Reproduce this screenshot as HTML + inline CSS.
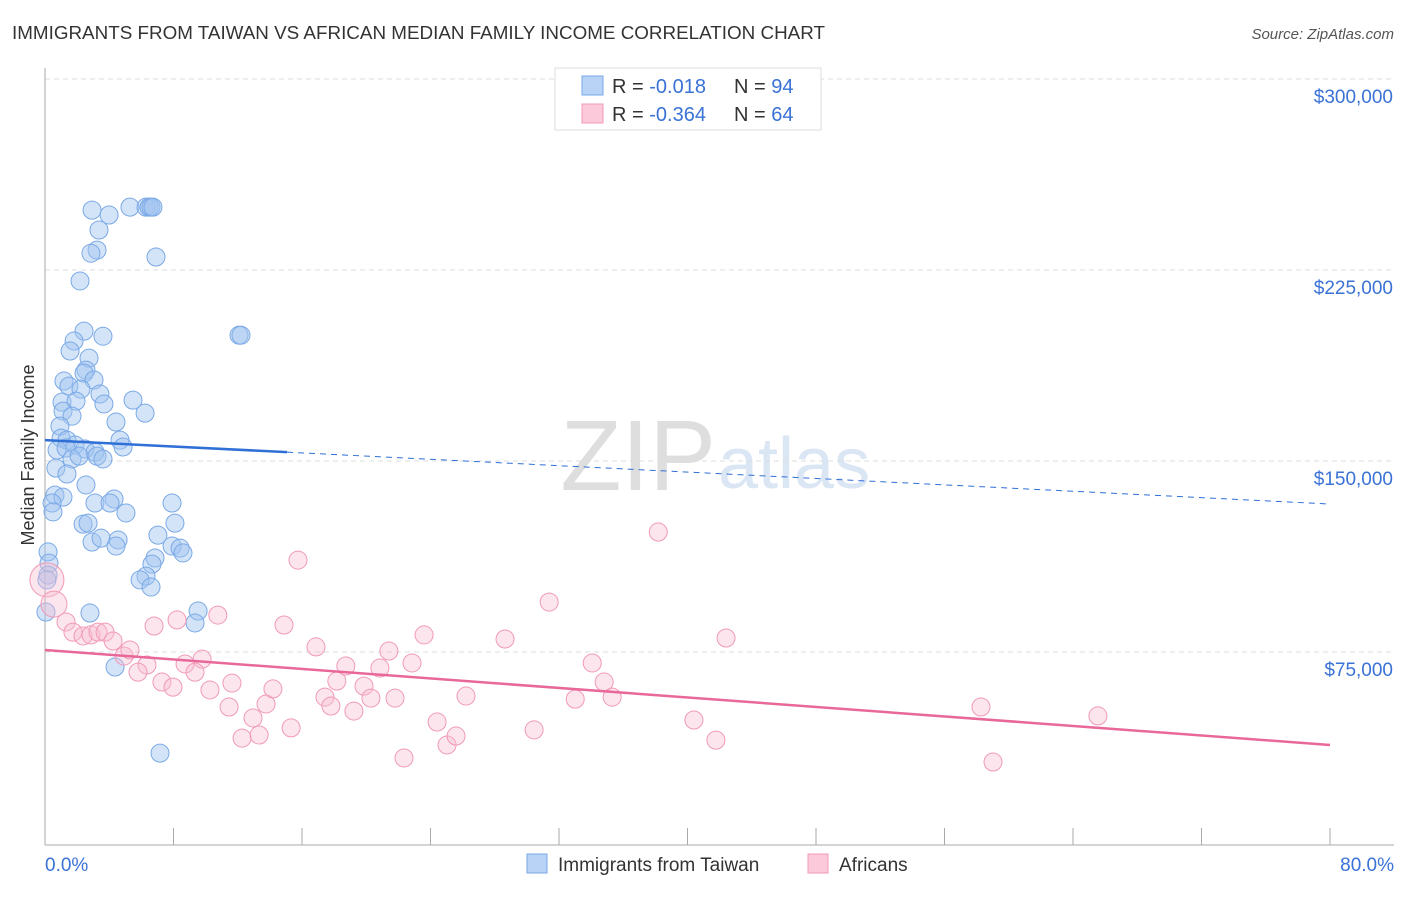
<!DOCTYPE html>
<html><head><meta charset="utf-8"><style>
body{margin:0;background:#fff;font-family:"Liberation Sans",sans-serif}
svg text{font-family:"Liberation Sans",sans-serif}
</style></head><body>
<svg id="chart" width="1406" height="892" viewBox="0 0 1406 892">
<text x="12" y="39" font-size="18" fill="#333" textLength="813" lengthAdjust="spacingAndGlyphs">IMMIGRANTS FROM TAIWAN VS AFRICAN MEDIAN FAMILY INCOME CORRELATION CHART</text>
<text x="1394" y="39" font-size="15" fill="#555" font-style="italic" text-anchor="end">Source: ZipAtlas.com</text>
<text x="716" y="490" font-size="100" fill="#dedede" text-anchor="end" font-family="Liberation Serif">ZIP</text>
<text x="718" y="488" font-size="72" fill="#dbe6f5">atlas</text>
<g id="grid"></g>
<g id="axes"></g>
<g id="pts"></g>
<g id="lines"></g>
<text transform="translate(34,455) rotate(-90)" font-size="18" fill="#333" text-anchor="middle">Median Family Income</text>
<g>
<rect x="555" y="68" width="266" height="62" fill="#fff" stroke="#ddd"/>
<rect x="582" y="76" width="21" height="19" fill="#b8d3f5" stroke="#7aaae8"/>
<rect x="582" y="104" width="21" height="19" fill="#fbc9d9" stroke="#f09ab6"/>
<text x="612" y="93" font-size="20" fill="#333">R = <tspan fill="#3a72d6">-0.018</tspan></text>
<text x="734" y="93" font-size="20" fill="#333">N = <tspan fill="#3a72d6">94</tspan></text>
<text x="612" y="121" font-size="20" fill="#333">R = <tspan fill="#3a72d6">-0.364</tspan></text>
<text x="734" y="121" font-size="20" fill="#333">N = <tspan fill="#3a72d6">64</tspan></text>
</g>
<g>
<rect x="527" y="854" width="20" height="19" fill="#b8d3f5" stroke="#7aaae8"/>
<text x="558" y="871" font-size="19" fill="#333">Immigrants from Taiwan</text>
<rect x="808" y="854" width="20" height="19" fill="#fbc9d9" stroke="#f09ab6"/>
<text x="839" y="871" font-size="19" fill="#333">Africans</text>
</g>
<text x="45" y="871" font-size="19" fill="#3a72d6">0.0%</text>
<text x="1394" y="871" font-size="19" fill="#3a72d6" text-anchor="end">80.0%</text>
</svg>
<script>
const yTicks=[75000,150000,225000,300000];
const yTickLabels=["$75,000","$150,000","$225,000","$300,000"];
const blueX=[2.93,3.99,5.29,6.29,6.48,6.6,6.72,3.36,3.24,2.86,6.91,2.18,12.08,12.2,2.43,3.61,1.81,1.56,2.74,2.55,2.43,1.18,3.05,1.49,2.24,3.42,1.06,1.93,3.67,5.48,1.12,6.23,1.68,4.42,0.93,1.0,4.67,1.37,4.86,1.87,0.75,2.49,1.31,3.11,3.24,3.61,1.68,2.12,0.68,1.37,2.55,0.62,1.12,0.44,0.5,3.11,4.3,4.05,5.04,7.91,2.37,2.68,8.09,7.03,2.93,3.49,4.55,4.42,7.91,8.41,8.59,0.19,6.85,6.66,0.25,0.19,0.12,6.29,5.92,6.6,0.06,2.8,9.53,9.34,4.36,7.16];
const blueY=[248.5,246.6,249.7,249.7,249.7,249.7,249.7,240.7,232.8,231.6,230.1,220.7,199.4,199.4,201,199,197.1,193.2,190.4,185.7,184.5,181.4,181.8,179.4,178.2,176.3,173.1,173.5,172.4,173.9,169.6,168.8,167.6,165.3,163.7,159,158.2,158.2,155.5,156.3,154.3,154.7,155.1,153.5,151.9,150.8,150.8,151.9,147.2,144.9,140.6,136.6,135.8,133.5,130,133.5,135.1,133.5,129.6,133.5,125.2,125.6,125.6,120.9,118.2,119.7,119,116.6,116.6,115.8,113.9,114.3,111.9,109.5,109.9,105.2,103.3,104.8,103.3,100.5,90.7,90.3,91.1,86.4,69.1,35.3];
const pinkX=[0.12,0.56,1.31,1.74,2.37,2.86,3.3,3.74,4.24,4.92,5.29,6.35,5.79,6.79,8.22,10.76,7.28,7.97,8.72,9.78,9.34,10.27,11.64,11.46,12.95,12.27,13.33,13.76,14.19,14.88,15.32,15.75,16.87,17.43,17.8,18.17,18.73,19.23,19.86,20.29,20.85,21.41,21.79,22.35,22.85,23.6,24.41,25.03,25.59,26.21,28.64,30.45,31.39,33.01,34.07,34.81,35.31,38.18,40.4,41.77,42.4,58.27,59.02,65.55];
const pinkY=[103.3,93.8,86.8,82.8,81.3,81.7,82.8,82.8,79.3,73.4,75.8,69.9,67.1,85.2,87.6,89.5,63.2,61.2,70.3,72.2,67.1,60.1,62.8,53.4,49.1,41.2,42.4,54.6,60.5,85.6,45.2,111.1,77,57.3,53.8,63.6,69.5,51.8,61.6,56.9,68.7,75.4,56.9,33.4,70.7,81.7,47.5,38.5,42,57.7,80.1,44.4,94.6,56.5,70.7,63.2,57.3,122.1,48.3,40.4,80.5,53.4,31.8,49.9];
const pinkR=[17,13];
const blueTrend=[158.2,133.1]; const blueSolidEnd=15.07;
const pinkTrend=[75.8,38.5];
const NS='http://www.w3.org/2000/svg';
const X=p=>45+p*1285/80;
const Y=k=>843-k*191/75;
function mk(tag,attrs,parent){const e=document.createElementNS(NS,tag);for(const a in attrs)e.setAttribute(a,attrs[a]);parent.appendChild(e);return e;}
const grid=document.getElementById('grid'),axes=document.getElementById('axes'),pts=document.getElementById('pts'),lines=document.getElementById('lines');
yTicks.forEach((v,i)=>{
 const y=Y(v/1000);
 const l=mk('line',{x1:45,x2:1394,y1:y,y2:y,stroke:'#ddd','stroke-dasharray':'5,4'},grid);
 
 
 const t=mk('text',{x:1393,y:y+24,'font-size':19,fill:'#3a72d6','text-anchor':'end'},grid);
 t.textContent=yTickLabels[i];
 
 
});
const ax=mk('line',{x1:45,x2:1394,y1:845,y2:845,stroke:'#aaa'},axes);


const ay=mk('line',{x1:45,x2:45,y1:68,y2:845,stroke:'#aaa'},axes);


for(let i=0;i<=10;i++){const x=X(i*8);const t=mk('line',{x1:x,x2:x,y1:828,y2:845,stroke:'#aaa'},axes);
 
 }
blueX.forEach((x,i)=>{const c=mk('circle',{cx:X(x),cy:Y(blueY[i]),r:9,fill:'rgba(160,196,240,0.45)',stroke:'#7aa9e6','stroke-width':1},pts);
 
 });
pinkX.forEach((x,i)=>{const c=mk('circle',{cx:X(x),cy:Y(pinkY[i]),r:pinkR[i]||9,fill:'rgba(248,190,210,0.4)',stroke:'#f09ab6','stroke-width':1},pts);
 
 });
const bt=k=>blueTrend[0]+(blueTrend[1]-blueTrend[0])*k/80;
const l1=mk('line',{x1:X(0),y1:Y(bt(0)),x2:X(blueSolidEnd),y2:Y(bt(blueSolidEnd)),stroke:'#2f6fd6','stroke-width':2.5},lines);


const l2=mk('line',{x1:X(blueSolidEnd),y1:Y(bt(blueSolidEnd)),x2:X(80),y2:Y(bt(80)),stroke:'#2f6fd6','stroke-width':1,'stroke-dasharray':'6,5'},lines);


const l3=mk('line',{x1:X(0),y1:Y(pinkTrend[0]),x2:X(80),y2:Y(pinkTrend[1]),stroke:'#e8689a','stroke-width':2.5},lines);


</script>
</body></html>
